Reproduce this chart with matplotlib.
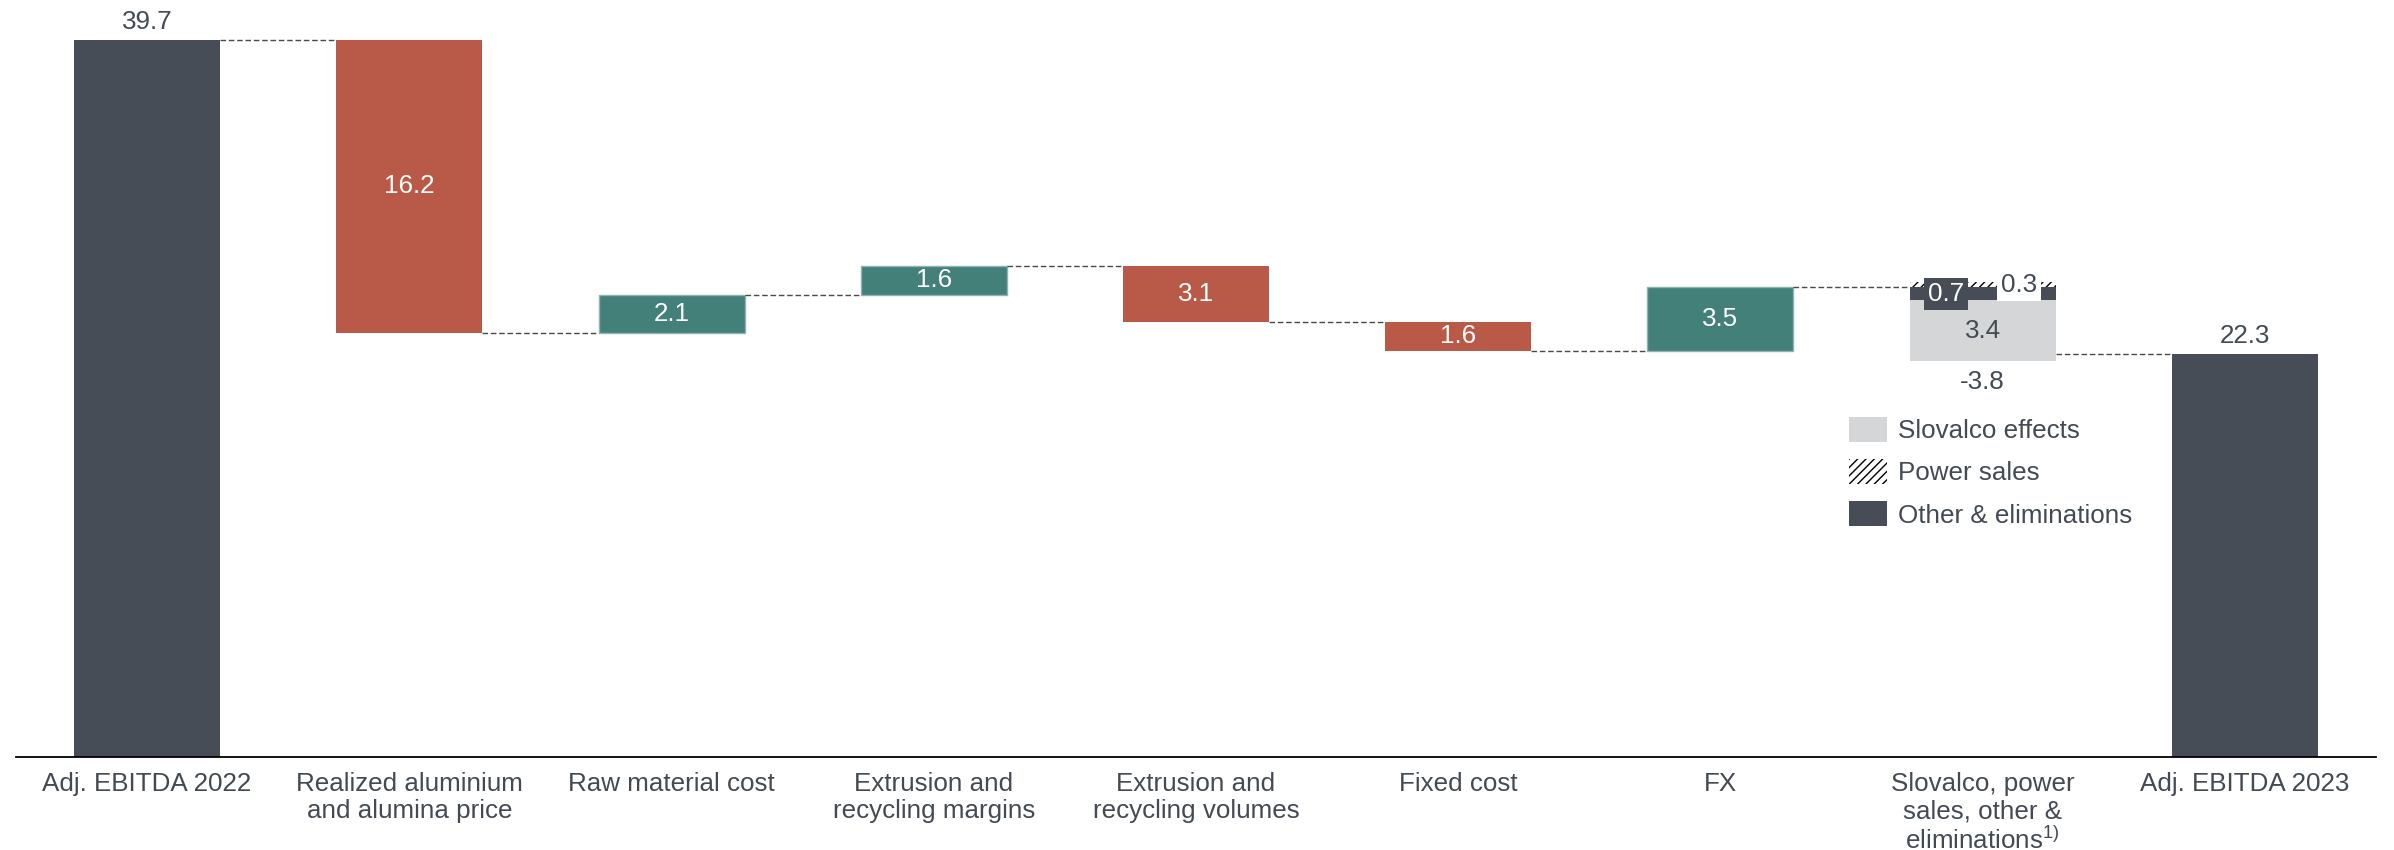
import matplotlib
matplotlib.use("Agg")
import matplotlib.pyplot as plt
from matplotlib.patches import Patch

# EBITDA bridge 2022 -> 2023 (NOKm bn)
categories = ["Adj. EBITDA 2022", "Realized aluminium\nand alumina price", "Raw material cost",
              "Extrusion and\nrecycling margins", "Extrusion and\nrecycling volumes", "Fixed cost", "FX",
              "Slovalco, power\nsales, other &\neliminations$^{1)}$", "Adj. EBITDA 2023"]
start_value = 39.7
changes = [-16.2, 2.1, 1.6, -3.1, -1.6, 3.5]
# split of the Slovalco / power / other step
power_sales = 0.3
other_elims = -0.7
slovalco_effects = -3.4
slovalco_total = -3.8
end_value = 22.3

dark = "#464d56"
red = "#b95a48"
green = "#44807a"
light = "#d5d6d8"
text_col = "#434a53"
fs = 18.7
w = 0.557

plt.rcParams["font.family"] = ["Liberation Sans", "DejaVu Sans"]
plt.rcParams["mathtext.fontset"] = "custom"
plt.rcParams["mathtext.rm"] = "Liberation Sans"
plt.rcParams["mathtext.default"] = "regular"
plt.rcParams["hatch.linewidth"] = 1.0

fig = plt.figure(figsize=(23.94, 8.5), dpi=100)
ax = fig.add_axes([16 / 2394, 93 / 850, 2360 / 2394, 757 / 850])


def connector(i, y):
    # dashed line from bar i to bar i+1
    ax.plot([i + w / 2, i + 1 - w / 2], [y, y], color="#4a4a4a", lw=1.0,
            linestyle=(0, (4, 2)), zorder=1)


# opening bar
ax.bar(0, start_value, w, color=dark)
ax.annotate(f"{start_value:.1f}", (0, start_value), xytext=(0, 8), textcoords="offset points",
            ha="center", va="baseline", fontsize=fs, color=text_col)

level = start_value
for i, ch in enumerate(changes, start=1):
    connector(i - 1, level)
    if ch > 0:
        ax.bar(i, ch, w, bottom=level, color=green, edgecolor="#8fb3ae", lw=1.0)
    else:
        ax.bar(i, ch, w, bottom=level, color=red)
    ax.text(i, level + ch / 2, f"{abs(ch):.1f}", ha="center", va="center",
            fontsize=fs, color="white")
    level = level + ch

# stacked Slovalco / power sales / other step
i = len(changes) + 1
connector(i - 1, level)
ax.bar(i, power_sales, w, bottom=level, color="white", edgecolor="black", hatch="////", lw=0)
ax.bar(i, other_elims, w, bottom=level, color=dark)
ax.bar(i, slovalco_effects, w, bottom=level + other_elims, color=light)
ax.text(i - 0.14, level + other_elims / 2, f"{abs(other_elims):.1f}", ha="center", va="center",
        fontsize=fs, color="white",
        bbox=dict(boxstyle="square,pad=0.15", fc=dark, ec="none"))
ax.text(i + 0.14, level + power_sales / 2, f"{power_sales:.1f}", ha="center", va="center",
        fontsize=fs, color=text_col,
        bbox=dict(boxstyle="square,pad=0.15", fc="white", ec="none"))
ax.text(i, level + other_elims + slovalco_effects / 2, f"{abs(slovalco_effects):.1f}",
        ha="center", va="center", fontsize=fs, color=text_col)
ax.annotate(f"{slovalco_total:.1f}", (i, level + other_elims + slovalco_effects),
            xytext=(0, -15), textcoords="offset points", ha="center", va="center",
            fontsize=fs, color=text_col)
connector(i, end_value)

# closing bar
ax.bar(i + 1, end_value, w, color=dark)
ax.annotate(f"{end_value:.1f}", (i + 1, end_value), xytext=(0, 8), textcoords="offset points",
            ha="center", va="baseline", fontsize=fs, color=text_col)

handles = [Patch(fc=light, ec="none", label="Slovalco effects"),
           Patch(fc="white", ec="black", hatch="////", lw=0, label="Power sales"),
           Patch(fc=dark, ec="none", label="Other & eliminations")]
ax.legend(handles=handles, loc="upper left", bbox_to_anchor=(1849 / 2394, 1 - 417 / 850),
          bbox_transform=fig.transFigure, frameon=False, fontsize=fs, handlelength=1.46,
          handleheight=1.08, handletextpad=0.43, labelspacing=0.62, borderpad=0,
          borderaxespad=0, labelcolor=text_col)

ax.set_xlim(-0.5, 8.5)
ax.set_ylim(0, 757 / 18.06)
ax.set_xticks(range(len(categories)))
ax.set_xticklabels(categories, fontsize=fs, color=text_col, linespacing=1.15)
ax.tick_params(axis="x", length=0, pad=11)
ax.set_yticks([])
for s in ["top", "right", "left"]:
    ax.spines[s].set_visible(False)
ax.spines["bottom"].set_linewidth(1.3)
ax.spines["bottom"].set_color("black")

fig.savefig("out.png", dpi=100)
